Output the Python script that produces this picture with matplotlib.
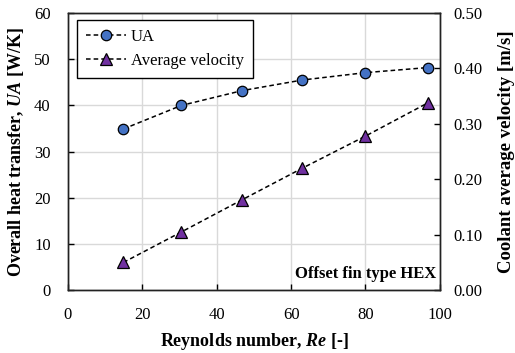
import matplotlib

matplotlib.use("Agg")
import matplotlib.pyplot as plt

plt.rcParams["font.family"] = ["Liberation Serif", "DejaVu Serif"]
plt.rcParams["mathtext.fontset"] = "custom"
plt.rcParams["mathtext.it"] = "Liberation Serif:italic:bold"
plt.rcParams["mathtext.rm"] = "Liberation Serif:bold"

# data
RE = [14.9, 30.5, 46.8, 63.0, 80.0, 96.8]
UA = [34.9, 40.0, 43.2, 45.5, 47.1, 48.2]
VEL = [0.050, 0.105, 0.163, 0.220, 0.278, 0.338]

X_TICKS = [0, 20, 40, 60, 80, 100]
UA_TICKS = [0, 10, 20, 30, 40, 50, 60]
VEL_TICKS = [0.0, 0.1, 0.2, 0.3, 0.4, 0.5]

fig = plt.figure(figsize=(5.15, 3.53), dpi=100)
ax = fig.add_axes([0.132, 0.178, 0.722, 0.785])
ax2 = ax.twinx()

l1, = ax.plot(RE, UA, linestyle="--", color="black", linewidth=1.1,
              dashes=(3, 2), marker="o", markersize=7.5,
              markerfacecolor="#4472C4", markeredgecolor="black",
              markeredgewidth=0.9, label="UA", zorder=3)
l2, = ax2.plot(RE, VEL, linestyle="--", color="black", linewidth=1.1,
               dashes=(3, 2), marker="^", markersize=8,
               markerfacecolor="#7030A0", markeredgecolor="black",
               markeredgewidth=0.9, label="Average velocity", zorder=3)

ax.set_xlim(0, 100)
ax.set_ylim(0, 60)
ax2.set_ylim(0, 0.5)
ax.set_xticks(X_TICKS)
ax.set_yticks(UA_TICKS)
ax2.set_yticks(VEL_TICKS)
ax2.set_yticklabels([f"{v:.2f}" for v in VEL_TICKS])

ax.grid(True, color="#d9d9d9", linewidth=1.0, zorder=0)
ax.set_axisbelow(True)

for a in (ax, ax2):
    a.tick_params(direction="in", length=4, width=1.0, labelsize=12,
                  colors="black")
    for s in a.spines.values():
        s.set_linewidth(1.0)
        s.set_color("#222222")
ax.tick_params(axis="x", pad=12)
ax.tick_params(axis="y", pad=12.5)
ax2.tick_params(axis="y", pad=10)

ax.set_xlabel(r"Reynolds number, $\mathit{Re}$ [-]", fontsize=13,
              fontweight="bold", labelpad=6)
ax.set_ylabel(r"Overall heat transfer, $\mathit{UA}$ [W/K]", fontsize=13,
              fontweight="bold", labelpad=6)
ax2.set_ylabel("Coolant average velocity [m/s]", fontsize=13.5,
               fontweight="bold", labelpad=11)

ax.text(0.99, 0.03, "Offset fin type HEX", transform=ax.transAxes,
        ha="right", va="bottom", fontsize=12, fontweight="bold")

leg = ax2.legend(handles=[l1, l2], loc="upper left", fontsize=12,
                 frameon=True, fancybox=False, edgecolor="black",
                 framealpha=1, bbox_to_anchor=(0.024, 0.975),
                 handlelength=2.4, handletextpad=0.3, borderpad=0.55,
                 labelspacing=0.45, borderaxespad=0)
leg.get_frame().set_linewidth(1.0)

fig.savefig("out.png", dpi=100)
